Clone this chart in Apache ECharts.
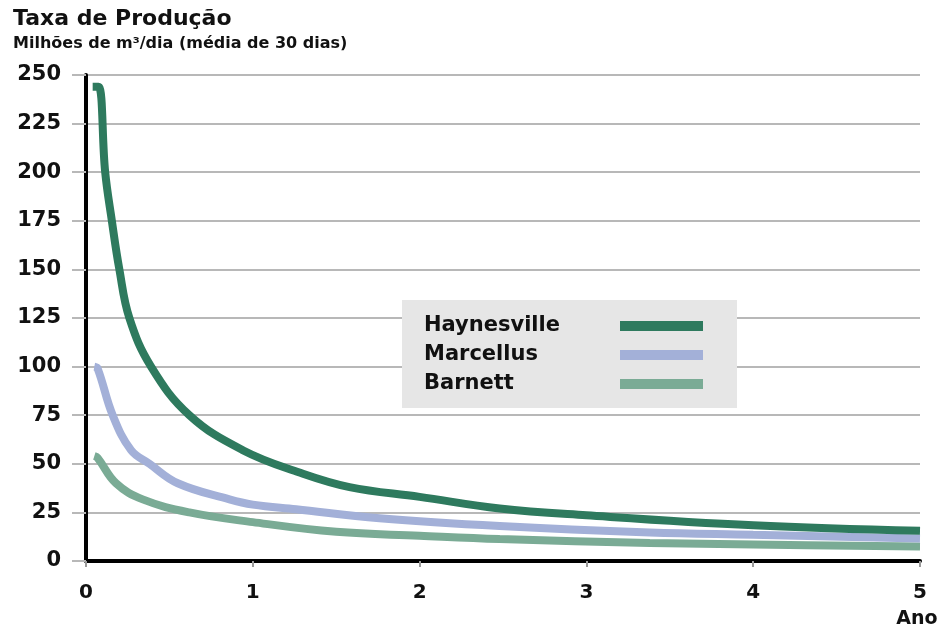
<!DOCTYPE html>
<html>
<head>
<meta charset="utf-8">
<script src="https://cdn.jsdelivr.net/npm/echarts@6/dist/echarts.min.js"></script>
<style>html,body{margin:0;padding:0;background:#fff}#c{width:949px;height:629px}</style>
</head>
<body>
<div id="c"></div>
<script>
const titleText = 'Taxa de Produção';
const subtitleText = 'Milhões de m³/dia (média de 30 dias)';
const xAxisName = 'Ano';
const seriesNames = ['Haynesville', 'Marcellus', 'Barnett'];

const haynesvilleX = [0.04, 0.075, 0.115, 0.155, 0.2, 0.26, 0.39, 0.62, 0.94, 1.28, 1.58, 2.0, 2.48, 3.0, 4.0, 5.0];
const haynesvilleY = [244, 244, 200, 175, 150, 125, 100, 75, 57, 45.5, 38, 33, 27, 23.5, 18.4, 15.5];

const marcellusX = [0.05, 0.07, 0.16, 0.27, 0.38, 0.55, 0.86, 1.0, 1.26, 1.76, 2.48, 3.38, 4.0, 5.0];
const marcellusY = [100, 99, 75, 57, 50, 40, 31.7, 29, 26.6, 22, 18, 14.7, 13.5, 11.6];

const barnettX = [0.05, 0.07, 0.18, 0.34, 0.62, 1.0, 1.5, 2.0, 2.48, 3.38, 4.0, 5.0];
const barnettY = [54, 53, 40, 31.7, 25, 20, 15, 13, 11.3, 9.3, 8.5, 7.5];

const colors = ['#2e7a5e', '#a3b0d8', '#7aab95'];

function pairs(xs, ys) { return xs.map((x, i) => [x, ys[i]]); }
const seriesData = [pairs(haynesvilleX, haynesvilleY), pairs(marcellusX, marcellusY), pairs(barnettX, barnettY)];

const FONT = 'DejaVu Sans';
const chart = echarts.init(document.getElementById('c'), null, { renderer: 'canvas' });
chart.setOption({
  animation: false,
  backgroundColor: '#ffffff',
  title: {
    text: titleText,
    subtext: subtitleText,
    left: 8,
    top: 3,
    itemGap: 6,
    textStyle: { fontFamily: FONT, fontWeight: 'bold', fontSize: 22, color: '#111' },
    subtextStyle: { fontFamily: FONT, fontWeight: 'bold', fontSize: 16, color: '#111' }
  },
  legend: {
    orient: 'vertical',
    left: 402,
    top: 300,
    padding: [15, 34, 13, 22],
    itemGap: 7,
    itemWidth: 83,
    itemHeight: 10,
    icon: 'rect',
    align: 'right',
    backgroundColor: '#e6e6e6',
    borderRadius: 0,
    data: seriesNames,
    formatter: '{a|{name}}',
    textStyle: {
      fontFamily: FONT, fontWeight: 'bold', fontSize: 21, color: '#111', lineHeight: 22,
      rich: { a: { width: 191, align: 'left', fontFamily: FONT, fontWeight: 'bold', fontSize: 21, color: '#111', lineHeight: 22 } }
    }
  },
  grid: { left: 86, right: 29, top: 75, bottom: 67, containLabel: false },
  xAxis: {
    type: 'value',
    min: 0, max: 5, interval: 1,
    name: xAxisName,
    nameLocation: 'end',
    nameGap: -3,
    nameTextStyle: { fontFamily: FONT, fontWeight: 'bold', fontSize: 19, color: '#111', align: 'center', verticalAlign: 'top', padding: [49, 0, 0, 0] },
    axisLine: { show: true, lineStyle: { color: '#000', width: 4 } },
    axisTick: { show: true, length: 6, lineStyle: { color: '#999', width: 2 } },
    axisLabel: { margin: 22, fontFamily: FONT, fontWeight: 'bold', fontSize: 20, color: '#111' },
    splitLine: { show: false }
  },
  yAxis: {
    type: 'value',
    min: 0, max: 250, interval: 25,
    axisLine: { show: true, lineStyle: { color: '#000', width: 4 } },
    axisTick: { show: true, length: 14, lineStyle: { color: '#b8b8b8', width: 2 } },
    axisLabel: { margin: 25, fontFamily: FONT, fontWeight: 'bold', fontSize: 21, color: '#111' },
    splitLine: { show: true, lineStyle: { color: '#b8b8b8', width: 2 } }
  },
  series: seriesNames.map((name, i) => ({
    name: name,
    type: 'line',
    data: seriesData[i],
    smooth: 0.4,
    showSymbol: false,
    symbol: 'none',
    color: colors[i],
    lineStyle: { color: colors[i], width: 8, cap: 'butt' },
    z: 3 - i
  }))
});
</script>
</body>
</html>
